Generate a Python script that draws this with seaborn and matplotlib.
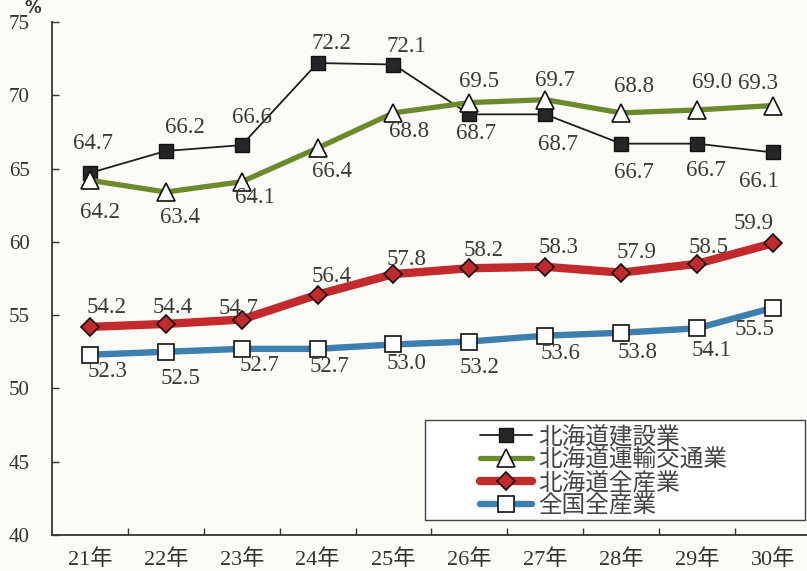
import matplotlib
matplotlib.use("Agg")
import matplotlib.pyplot as plt
import seaborn as sns
import pandas as pd
from matplotlib.patches import Rectangle

years = ["21年", "22年", "23年", "24年", "25年", "26年", "27年", "28年", "29年", "30年"]
series_names = ["北海道建設業", "北海道運輸交通業", "北海道全産業", "全国全産業"]
construction = [64.7, 66.2, 66.6, 72.2, 72.1, 68.7, 68.7, 66.7, 66.7, 66.1]
transport = [64.2, 63.4, 64.1, 66.4, 68.8, 69.5, 69.7, 68.8, 69.0, 69.3]
hokkaido_all = [54.2, 54.4, 54.7, 56.4, 57.8, 58.2, 58.3, 57.9, 58.5, 59.9]
national_all = [52.3, 52.5, 52.7, 52.7, 53.0, 53.2, 53.6, 53.8, 54.1, 55.5]
y_ticks = [40, 45, 50, 55, 60, 65, 70, 75]

sns.set_theme(style="ticks")
plt.rcParams['font.family'] = ['Liberation Serif', 'Noto Sans CJK JP']

values = [construction, transport, hokkaido_all, national_all]
df = pd.DataFrame({
    "idx": [i for _ in series_names for i in range(len(years))],
    "value": [v for s in values for v in s],
    "series": [n for n in series_names for _ in years],
})

bg = "#fcfbf6"
fig = plt.figure(figsize=(8.07, 5.71), dpi=100, facecolor=bg)
ax = fig.add_axes([52/807, 36/571, 1 - 52/807, (535 - 22)/571])
ax.set_facecolor(bg)

styles = {
    "北海道建設業": dict(color="#1e1e1e", lw=1.3, marker="s", ms=10, mfc="#262626", mec="#111111", mew=1.0),
    "北海道運輸交通業": dict(color="#6b8a2c", lw=3.8, marker="^", ms=13, mfc="white", mec="#111111", mew=1.2),
    "北海道全産業": dict(color="#c22a2c", lw=6.0, marker="D", ms=9, mfc="#c22a2c", mec="#111111", mew=1.2),
    "全国全産業": dict(color="#3d7fae", lw=4.6, marker="s", ms=11, mfc="white", mec="#111111", mew=1.2),
}

for name in series_names:
    st = styles[name]
    sub = df[df.series == name]
    sns.lineplot(data=sub, x="idx", y="value", ax=ax, color=st["color"], linewidth=st["lw"],
                 marker=st["marker"], markersize=st["ms"], markerfacecolor=st["mfc"],
                 markeredgecolor=st["mec"], markeredgewidth=st["mew"], label=name, zorder=3)

# label offsets in pixels (dx, dy) with dy positive = upward
offsets = {
    "北海道建設業": [(3, 29), (19, 23), (10, 28), (14, 20), (13, 18), (7, -19), (13, -30), (13, -29), (9, -27), (-14, -29)],
    "北海道運輸交通業": [(10, -32), (14, -25), (13, -16), (14, -23), (16, -19), (10, 21), (10, 19), (13, 26), (15, 27), (-15, 22)],
    "北海道全産業": [(17, 19), (7, 16), (-3, 11), (14, 18), (13, 15), (14, 18), (13, 19), (15, 20), (12, 16), (-19, 20)],
    "全国全産業": [(18, -17), (15, -27), (18, -17), (12, -18), (13, -19), (10, -26), (15, -18), (16, -20), (15, -22), (-18, -22)],
}
for name, vals in zip(series_names, values):
    for i, v in enumerate(vals):
        dx, dy = offsets[name][i]
        ax.annotate(f"{v:.1f}", (i, v), xytext=(dx, dy), textcoords="offset pixels",
                    ha="center", va="center", fontsize=16.5, color="#3a3a3a", zorder=4)

ax.set_xlim(-0.5, 9.45)
ax.set_ylim(40, 75)
ax.set_yticks(y_ticks)
ax.set_yticklabels([str(t) for t in y_ticks], fontsize=15, color="#333333")
ax.set_xticks(range(len(years)))
ax.set_xticklabels(years, fontsize=16, color="#333333")
ax.set_xticks([i + 0.5 for i in range(len(years) - 1)], minor=True)
ax.tick_params(axis="x", which="major", length=0, pad=10)
ax.tick_params(axis="x", which="minor", direction="in", length=5, width=1, color="#333333")
ax.tick_params(axis="y", direction="in", length=5, width=1, color="#333333", pad=16)
ax.set_xlabel("")
ax.set_ylabel("")
for s in ["top", "right"]:
    ax.spines[s].set_visible(False)
for s in ["left", "bottom"]:
    ax.spines[s].set_color("#333333")
    ax.spines[s].set_linewidth(1.3)

fig.text(33/807, 1 - 8/571, "%", fontsize=12, fontweight="bold", color="#333333",
         ha="center", va="center", family=["DejaVu Sans"])

# legend frame
rect = Rectangle((425/807, 1 - 520/571), 380/807, 100/571, transform=fig.transFigure,
                 facecolor="white", edgecolor="#444444", lw=1.0, zorder=4.5, clip_on=False)
ax.add_patch(rect)
leg = ax.legend(loc="upper left", bbox_to_anchor=(466/807, 1 - 411/571), bbox_transform=fig.transFigure,
                frameon=False, handlelength=2.2, handletextpad=0.25,
                labelspacing=0.0, borderpad=0.1, prop={"family": ["Noto Sans CJK JP"], "size": 17})
leg.set_zorder(6)
for t in leg.get_texts():
    t.set_color("#444444")

fig.savefig("out.png", dpi=100, facecolor=bg)
